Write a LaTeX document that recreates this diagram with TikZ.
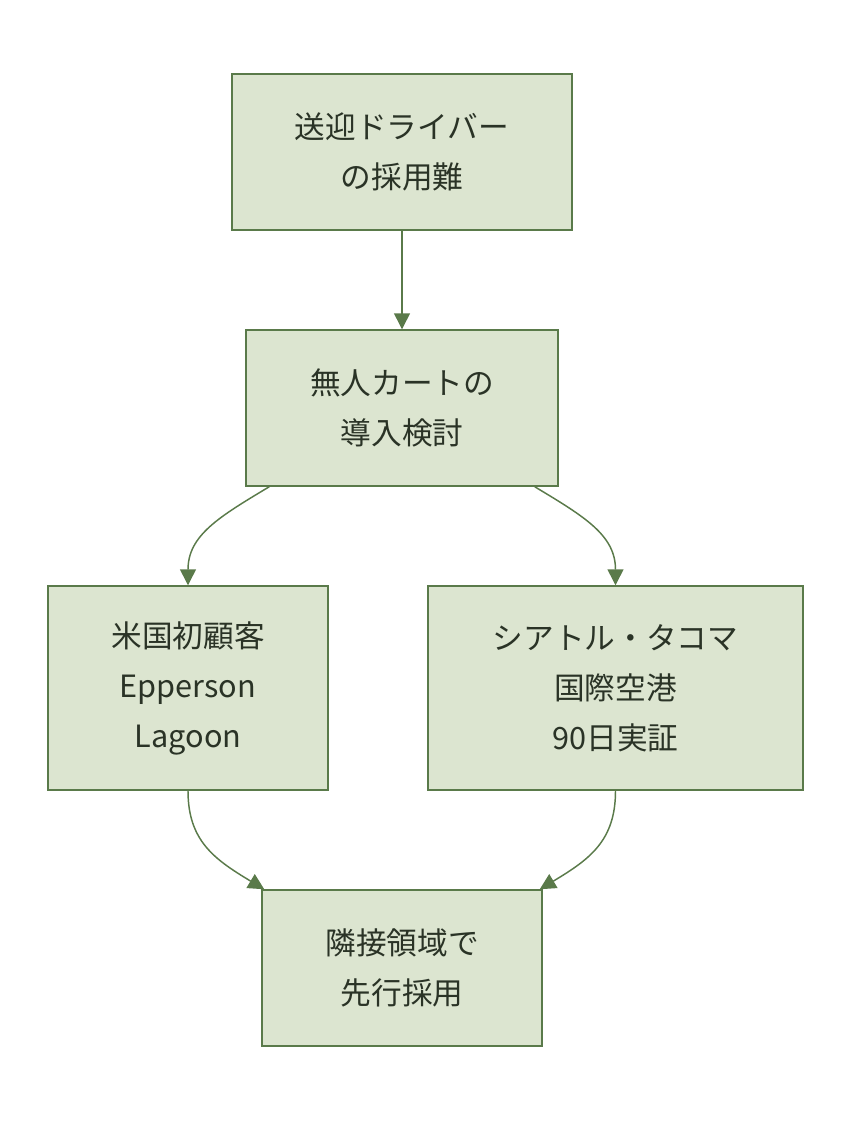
\documentclass[tikz,border=0pt]{standalone}
\usepackage{fontspec}
\setmainfont{Noto Sans CJK JP}
\usetikzlibrary{arrows.meta}

\definecolor{boxfill}{HTML}{DCE5D0}
\definecolor{boxline}{HTML}{5A7A4A}
\definecolor{boxtext}{HTML}{2A3326}

\tikzset{
  stage/.style={draw=boxline, fill=boxfill, line width=1.1pt, text=boxtext,
    align=center, inner sep=0pt, font=\fontsize{23}{37.5}\selectfont},
  flow/.style={draw=boxline, line width=1.1pt, -{Triangle[length=12pt,width=12pt]}}
}

\begin{document}
\begin{tikzpicture}[x=0.75pt,y=-0.75pt]
\useasboundingbox (0,0) rectangle (852,1124);
\node[stage, minimum width=255pt, minimum height=117pt] (issue) at (402,152) {送迎ドライバー\\の採用難};
\node[stage, minimum width=234pt, minimum height=117pt] (study) at (402,408) {無人カートの\\導入検討};
\node[stage, minimum width=210pt, minimum height=153pt] (lagoon) at (188,688) {米国初顧客\\Epperson\\Lagoon};
\node[stage, minimum width=281.25pt, minimum height=153pt] (airport) at (615.5,688) {シアトル・タコマ\\国際空港\\90日実証};
\node[stage, minimum width=210pt, minimum height=117pt] (adopt) at (402,968) {隣接領域で\\先行採用};
\draw[flow] (issue) -- (study);
\draw[flow] ([xshift=18pt]study.south west) .. controls +(-50,30) and +(0,-50) .. (lagoon.north);
\draw[flow] ([xshift=-18pt]study.south east) .. controls +(50,30) and +(0,-50) .. (airport.north);
\draw[flow] (lagoon.south) .. controls +(0,50) and +(-50,-30) .. ([xshift=2.25pt]adopt.north west);
\draw[flow] (airport.south) .. controls +(0,50) and +(50,-30) .. ([xshift=-2.25pt]adopt.north east);
\end{tikzpicture}
\end{document}
